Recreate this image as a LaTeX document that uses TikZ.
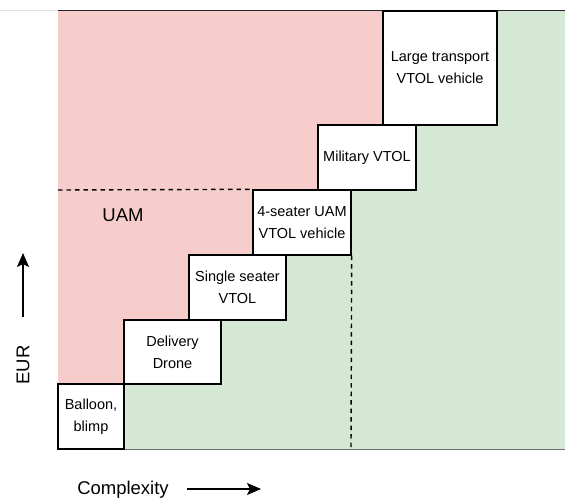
\documentclass[tikz,border=0pt]{standalone}
\usepackage{fontspec}
\setmainfont{Liberation Sans}
\usetikzlibrary{arrows.meta}
\definecolor{riskred}{HTML}{F6CDCB}
\definecolor{safegreen}{HTML}{D5E8D4}
\tikzset{
  vehicle/.style={draw=black, line width=1.4pt, fill=white, inner sep=0pt,
    align=center, font=\fontsize{14.5}{22}\selectfont},
  axislabel/.style={font=\fontsize{18.5}{22}\selectfont},
  divider/.style={line width=1.4pt, dash pattern=on 4.5pt off 4pt},
  axisarrow/.style={line width=1.3pt, -{Stealth[length=14pt,width=12pt,inset=3pt]}}
}
\begin{document}
\begin{tikzpicture}[x=1pt,y=-1pt]
\useasboundingbox (0,0) rectangle (565,502);
% page rule along the top
\draw[color=black!12, line width=1pt] (0,11) -- (565,11);
% expensive region
\fill[riskred] (58,11) rectangle (565,449);
% staircase of the cheaper region
\fill[safegreen] (124,449) -- (124,384) -- (221,384) -- (221,320) -- (286,320)
  -- (286,255) -- (351,255) -- (351,190) -- (416,190) -- (416,125)
  -- (497,125) -- (497,11) -- (565,11) -- (565,449) -- cycle;
\draw[color=black!85, line width=1pt] (58,11) -- (565,11);
\draw[color=black!55, line width=1pt] (124,449) -- (565,449);

% vehicle classes
\node[vehicle, minimum width=66pt, minimum height=65pt] (balloon) at (91,416.5) {Balloon,\\blimp};
\node[vehicle, minimum width=97pt, minimum height=64pt] (drone) at (172.5,352) {Delivery\\Drone};
\node[vehicle, minimum width=97pt, minimum height=65pt] (single) at (237.5,287.5) {Single seater\\VTOL};
\node[vehicle, minimum width=98pt, minimum height=65pt] (four) at (302,222.5) {4-seater UAM\\VTOL vehicle};
\node[vehicle, minimum width=98pt, minimum height=65pt] (military) at (367,157.5) {Military VTOL};
\node[vehicle, minimum width=114pt, minimum height=114pt] (large) at (440,68) {Large transport\\VTOL vehicle};

% UAM boundaries
\coordinate (uamleft) at (58,190);
\coordinate (uambottom) at (351,449);
\draw[divider] (uamleft) -- (four.north west);
\draw[divider] (four.south east) -- (uambottom);
\node[axislabel] (uam) at (123,215) {UAM};

% axes
\node[axislabel, rotate=90] (eur) at (23,365) {EUR};
\coordinate (eurtail) at (23,317);
\coordinate (eurhead) at (23,253);
\draw[axisarrow] (eurtail) -- (eurhead);
\node[axislabel] (complexity) at (123,490) {Complexity};
\coordinate (cxtail) at (187,489);
\coordinate (cxhead) at (261,489);
\draw[axisarrow] (cxtail) -- (cxhead);
\end{tikzpicture}
\end{document}
